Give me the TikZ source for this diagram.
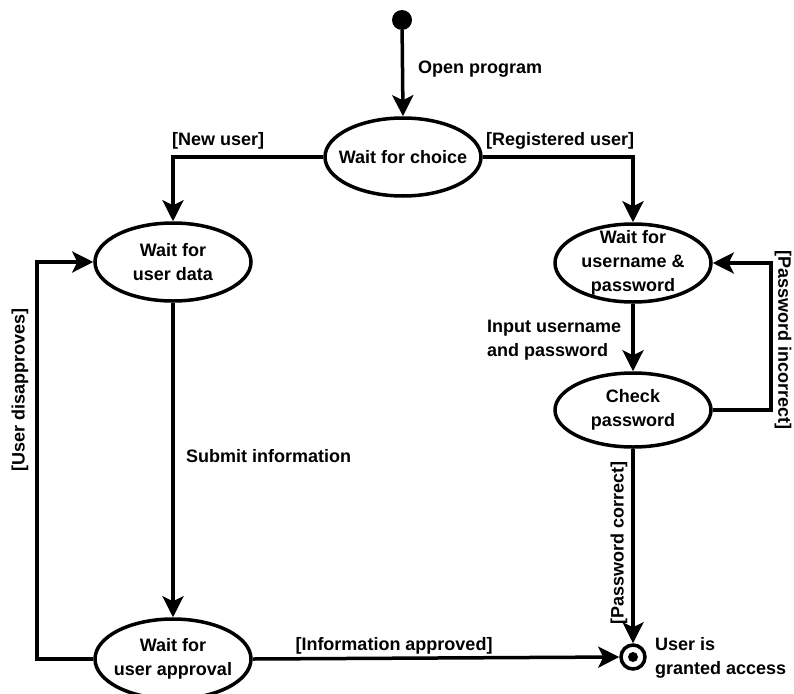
\documentclass[tikz,border=0pt]{standalone}
\usepackage{fontspec}
\setmainfont{Liberation Sans}
\usetikzlibrary{shapes.geometric,arrows.meta}
\begin{document}
\begin{tikzpicture}[x=1pt,y=-1pt,
  every node/.style={font=\bfseries\fontsize{18}{24}\selectfont},
  state/.style={ellipse,draw,line width=3.5pt,minimum width=156pt,minimum height=78pt,
    inner sep=0pt},
  statetext/.style={align=center,inner sep=0pt},
  flow/.style={line width=3.5pt,-{Stealth[length=21pt,width=21pt,inset=5pt]}},
  lbl/.style={inner sep=0pt}]
\useasboundingbox (0,0) rectangle (794,693);

% states (outline first, text on top so long lines may touch the border)
\node[circle,fill,inner sep=0pt,minimum size=20pt] (init) at (402,20) {};
\node[state] (choice) at (403,157) {};
\node[statetext] (choicetext) at (choice) {Wait for choice};
\node[state] (data) at (173,262) {};
\node[statetext] (datatext) at (data) {Wait for\\user data};
\node[state] (creds) at (633,263) {};
\node[statetext] (credstext) at (creds) {Wait for\\username \&\\password};
\node[state,minimum height=74pt] (check) at (633,410) {};
\node[statetext] (checktext) at (check) {Check\\password};
\node[state,minimum height=80pt] (approval) at (173,659) {};
\node[statetext] (approvaltext) at (approval) {Wait for\\user approval};
\node[circle,draw,line width=3.5pt,minimum size=24pt,inner sep=0pt] (final) at (633,657) {};
\fill (final) circle (5pt);

% rails for the two feedback loops
\coordinate (leftrail) at (37,0);
\coordinate (rightrail) at (771,0);

% transitions
\draw[flow] (init) -- (choice.north);
\draw[flow] (choice.west) -| (data.north);
\draw[flow] (choice.east) -| (creds.north);
\draw[flow] (creds.south) -- (check.north);
\draw[flow] (check.east) -- (check.east -| rightrail) -- (creds.east -| rightrail) -- (creds.east);
\draw[flow] (check.south) -- (final.north);
\draw[flow] (data.south) -- (approval.north);
\draw[flow] (approval.west) -- (approval.west -| leftrail) -- (data.west -| leftrail) -- (data.west);
\draw[flow] (approval.east) -- (final.west);

% labels
\node[lbl,anchor=west] (openlbl) at (418,69) {Open program};
\node[lbl,anchor=west] (newlbl) at (172,141) {[New user]};
\node[lbl,anchor=west] (reglbl) at (486,141) {[Registered user]};
\node[lbl,anchor=west,align=left] (inputlbl) at (487,340) {Input username\\and password};
\node[lbl,anchor=west] (submitlbl) at (186,456) {Submit information};
\node[lbl] (approvedlbl) at (394,646) {[Information approved]};
\node[lbl,anchor=west,align=left] (finallbl) at (655,658) {User is\\granted access};
\node[lbl,rotate=-90] (incorrectlbl) at (783,340) {[Password incorrect]};
\node[lbl,rotate=90] (correctlbl) at (619,543) {[Password correct]};
\node[lbl,rotate=90] (disapprlbl) at (20,390) {[User disapproves]};
\end{tikzpicture}
\end{document}
